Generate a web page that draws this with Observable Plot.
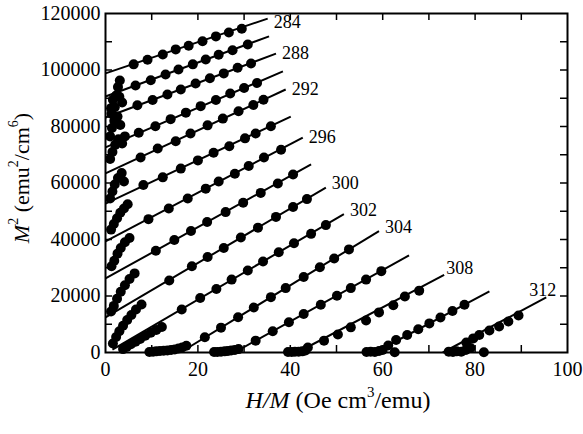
<!DOCTYPE html>
<html>
<head>
<meta charset="utf-8">
<script src="https://cdn.jsdelivr.net/npm/d3@7"></script>
<script src="https://cdn.jsdelivr.net/npm/@observablehq/plot@0.6"></script>
<style>
  html, body { margin: 0; padding: 0; background: #fff; }
  #chart { width: 583px; height: 434px; }
  #chart text { font-family: "Liberation Serif", serif; }
</style>
</head>
<body>
<div id="chart"></div>
<script>
// Isotherm temperatures (K)
const temps = [284, 286, 288, 290, 292, 294, 296, 298, 300, 302, 304, 306, 308, 310, 312];
// Linear fits (start and end of each drawn line)
const lineX0 = [0, 0, 0, 0, 0, 0, 0, 0, 0, 1.5, 16.2, 27.9, 41.5, 58.3, 73.0];
const lineY0 = [98800, 90600, 83200, 72600, 63400, 52700, 39300, 26200, 12400, 1000, 0, 0, 0, 0, 0];
const lineX1 = [35.1, 35.4, 36.9, 38.4, 39.0, 40.1, 42.7, 44.5, 47.7, 51.6, 59.2, 65.7, 73.3, 83.1, 95.4];
const lineY1 = [118200, 111900, 105800, 99500, 93100, 83500, 76100, 66600, 58400, 49000, 43000, 34400, 27500, 21600, 19500];
// Labelled isotherms
const labelTemps = [284, 288, 292, 296, 300, 302, 304, 308, 312];
// Axis ticks
const xMajor = [0, 20, 40, 60, 80, 100];
const xMinor = [10, 20, 30, 40, 50, 60, 70, 80, 90];
const yMajor = [0, 20000, 40000, 60000, 80000, 100000, 120000];
const yMinor = [10000, 20000, 30000, 40000, 50000, 60000, 70000, 80000, 90000, 100000, 110000];

// Measured points [H/M, M^2]
const p284 = [[2.7,94000],[3.1,96300],[6.1,102000],[9.1,103600],[12.4,105500],[15.2,107300],[18.0,108600],[21.0,110200],[23.9,111900],[26.7,113300],[29.5,114600]];
const p286 = [[1.2,86500],[1.6,89500],[2.3,91000],[3.0,90500],[3.6,88500],[2.0,86800],[6.5,94500],[9.8,96400],[13.0,98400],[15.8,100200],[18.9,102000],[21.7,103700],[24.5,105400],[27.5,107000],[30.8,109000]];
const p288 = [[1.0,76500],[1.4,79500],[1.9,82000],[2.6,83500],[3.2,80500],[1.3,84500],[6.9,87500],[10.2,89400],[13.4,91300],[16.3,93100],[19.5,95200],[22.6,97100],[25.6,98800],[28.6,100800],[31.5,102300]];
const p290 = [[1.0,68500],[1.5,71000],[2.1,73500],[2.8,75500],[3.6,74000],[4.2,76500],[7.2,77800],[10.8,80100],[14.1,82600],[17.4,84900],[20.6,87200],[23.9,89400],[27.0,91700],[30.0,93600],[32.8,95400]];
const p292 = [[1.0,54500],[1.5,57000],[2.0,59500],[2.7,61800],[3.5,63500],[4.0,60500],[7.6,69000],[11.3,72200],[15.2,74800],[18.4,77500],[22.1,80400],[25.4,82800],[28.8,85400],[32.0,87600],[34.2,89500]];
const p294 = [[1.2,43500],[1.8,45500],[2.5,47500],[3.2,49500],[4.0,51000],[4.8,52500],[8.2,59300],[12.4,62000],[16.3,65100],[20.0,68000],[23.4,70700],[26.8,73000],[30.2,75800],[32.5,77500],[35.8,80100]];
const p296 = [[1.3,30500],[1.9,32500],[2.6,35000],[3.3,37000],[4.2,39000],[5.2,40500],[9.3,47200],[13.7,51000],[17.8,54500],[21.7,58000],[24.5,60500],[28.0,63300],[31.0,66000],[34.3,69000],[38.0,71800]];
const p298 = [[1.2,14500],[1.8,16500],[2.5,19000],[3.3,21500],[4.2,23800],[5.2,26000],[6.3,28000],[10.9,36000],[14.9,39800],[18.5,43000],[22.0,46200],[26.0,49700],[29.8,53000],[33.6,56500],[37.3,59800],[40.6,63000]];
const p300 = [[1.6,3200],[2.3,5500],[3.0,7500],[3.8,9500],[4.7,11500],[5.6,13300],[6.6,15200],[7.8,17000],[13.8,25500],[18.7,30500],[22.1,33800],[25.6,37000],[29.3,40700],[33.0,44200],[36.9,48000],[40.6,51500],[43.6,54300]];
const p302 = [[3.8,1200],[4.6,2000],[5.5,2900],[6.5,3800],[7.5,4800],[8.6,5900],[9.8,7000],[11.0,8000],[12.2,9000],[16.5,15200],[20.5,19300],[24.0,22500],[27.3,25800],[30.8,29000],[34.1,32200],[37.5,35500],[40.8,38700],[44.5,42000],[47.7,45100]];
const p304 = [[9.5,200],[10.3,300],[11.0,400],[11.8,500],[12.6,600],[13.4,700],[14.2,900],[15.0,1100],[15.8,1400],[16.6,1800],[17.5,2400],[21.5,5400],[25.0,8800],[28.7,12500],[32.1,15900],[35.8,19600],[39.0,22800],[42.9,26700],[46.4,30200],[49.5,33300],[52.7,36500]];
const p306 = [[23.5,200],[24.2,200],[25.0,300],[25.8,400],[26.5,500],[27.2,700],[28.0,900],[28.8,1200],[32.5,4200],[36.2,7500],[39.7,10700],[42.9,13600],[46.6,16900],[50.1,20100],[53.1,22800],[56.4,25800],[59.7,28800]];
const p308 = [[39.5,200],[40.3,200],[41.0,300],[41.8,300],[42.6,400],[43.3,700],[43.8,1800],[47.3,4200],[50.3,6400],[53.1,8900],[56.4,11300],[59.2,14200],[62.3,16700],[64.8,19800],[67.9,21900]];
const p310 = [[56.5,200],[57.4,300],[58.3,200],[59.2,500],[60.0,900],[62.6,100],[61.2,2500],[62.9,4400],[65.3,6200],[67.7,8200],[70.1,10300],[72.5,12400],[75.1,14700],[77.7,16900]];
const p312 = [[74.3,300],[75.2,200],[76.0,400],[77.0,300],[78.0,900],[79.0,1600],[81.9,100],[78.1,3500],[79.6,5000],[80.9,6200],[83.1,7800],[85.2,9200],[87.2,11000],[89.4,13100]];

const pointSets = [p284, p286, p288, p290, p292, p294, p296, p298, p300, p302, p304, p306, p308, p310, p312];

// Build tables for the library
const lines = temps.map((t, i) => ({t, x1: lineX0[i], y1: lineY0[i], x2: lineX1[i], y2: lineY1[i]}));
const labels = lines.filter(d => labelTemps.includes(d.t));
const points = pointSets.flatMap((set, i) => set.map(([x, y]) => ({t: temps[i], x, y})));

const W = 583, H = 434;
const mL = 105, mR = 16, mT = 13, mB = 82;
const plotW = W - mL - mR, plotH = H - mT - mB;
const tick = 7;
const serif = "Liberation Serif, serif";

function labelMark(ts, dx, dy) {
  return Plot.text(labels.filter(d => ts.includes(d.t)), {
    x: "x2", y: "y2", text: d => String(d.t), textAnchor: "start",
    dx, dy, fontSize: 18, fontFamily: serif
  });
}

const chart = Plot.plot({
  width: W, height: H,
  marginLeft: mL, marginRight: mR, marginTop: mT, marginBottom: mB,
  x: {domain: [0, 100], label: null},
  y: {domain: [0, 120000], label: null},
  style: {fontFamily: serif, fontSize: "20px", color: "black", background: "white"},
  marks: [
    // inward minor/major ticks on all four sides
    Plot.ruleX(xMinor, {x: d => d, insetTop: plotH - tick, stroke: "black", strokeWidth: 1.5}),
    Plot.ruleX(xMinor, {x: d => d, insetBottom: plotH - tick, stroke: "black", strokeWidth: 1.5}),
    Plot.ruleY(yMinor, {y: d => d, insetRight: plotW - tick, stroke: "black", strokeWidth: 1.5}),
    Plot.ruleY(yMinor, {y: d => d, insetLeft: plotW - tick, stroke: "black", strokeWidth: 1.5}),
    Plot.axisX(xMajor, {tickSize: 0, tickPadding: 9, fontSize: 20, fontFamily: serif, label: null, tickFormat: d => String(d)}),
    Plot.axisY(yMajor, {tickSize: 0, tickPadding: 5, fontSize: 20, fontFamily: serif, label: null, tickFormat: d => String(d)}),
    Plot.frame({stroke: "black", strokeWidth: 2}),
    Plot.link(lines, {x1: "x1", y1: "y1", x2: "x2", y2: "y2", stroke: "black", strokeWidth: 2}),
    Plot.dot(points, {x: "x", y: "y", r: 5, fill: "black", stroke: "none"}),
    labelMark([284], 6, 4),
    labelMark([288, 292, 296], 6, 0),
    labelMark([300, 302, 304], 6, -4),
    labelMark([308], 2, -7),
    labelMark([312], -17, -7)
  ]
});

document.getElementById("chart").appendChild(chart);

// Axis titles with italics and superscripts
const svg = d3.select(chart);
const xt = svg.append("text")
  .attr("x", 338).attr("y", 400)
  .attr("text-anchor", "middle").attr("dominant-baseline", "central")
  .attr("font-family", serif).attr("font-size", 24).attr("fill", "black");
xt.append("tspan").attr("font-style", "italic").text("H/M");
xt.append("tspan").text(" (Oe cm");
xt.append("tspan").attr("font-size", 15).attr("baseline-shift", "super").text("3");
xt.append("tspan").text("/emu)");

const yt = svg.append("text")
  .attr("transform", "translate(21,178) rotate(-90)")
  .attr("text-anchor", "middle").attr("dominant-baseline", "central")
  .attr("font-family", serif).attr("font-size", 22).attr("fill", "black");
yt.append("tspan").attr("font-style", "italic").text("M");
yt.append("tspan").attr("font-size", 14).attr("baseline-shift", "super").text("2");
yt.append("tspan").text(" (emu");
yt.append("tspan").attr("font-size", 14).attr("baseline-shift", "super").text("2");
yt.append("tspan").text("/cm");
yt.append("tspan").attr("font-size", 14).attr("baseline-shift", "super").text("6");
yt.append("tspan").text(")");
</script>
</body>
</html>
